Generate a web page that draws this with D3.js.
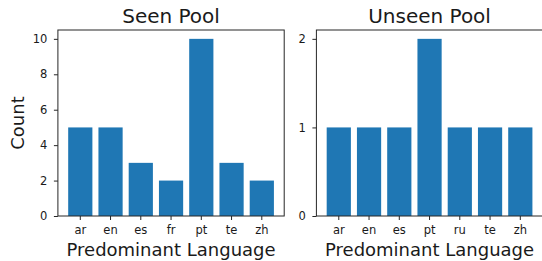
<!DOCTYPE html>
<html>
<head>
<meta charset="utf-8">
<script src="https://cdn.jsdelivr.net/npm/d3@7"></script>
<style>
  html, body { margin: 0; padding: 0; background: #fff; }
  svg { display: block; }
  text { font-family: "DejaVu Sans", sans-serif; fill: #1a1a1a; }
</style>
</head>
<body>
<div id="chart"></div>
<script>
// data
const seenLangs = ['ar', 'en', 'es', 'fr', 'pt', 'te', 'zh'];
const seenCounts = [5, 5, 3, 2, 10, 3, 2];
const seenTicks = [0, 2, 4, 6, 8, 10];

const unseenLangs = ['ar', 'en', 'es', 'pt', 'ru', 'te', 'zh'];
const unseenCounts = [1, 1, 1, 2, 1, 1, 1];
const unseenTicks = [0, 1, 2];

const width = 542, height = 261;
const plotTop = 30, plotBottom = 216;

const svg = d3.select('#chart').append('svg')
    .attr('width', width)
    .attr('height', height);

// draw one subplot
function drawPanel(opts) {
    const x = d3.scaleBand()
        .domain(opts.langs)
        .range([opts.left, opts.right])
        .paddingInner(0.2)
        .paddingOuter(0.34);

    const yMax = d3.max(opts.counts) * 1.05;
    const y = d3.scaleLinear().domain([0, yMax]).range([plotBottom, plotTop]);

    const g = svg.append('g');

    // bars
    g.selectAll('rect.bar')
        .data(opts.langs)
        .enter()
        .append('rect')
        .attr('class', 'bar')
        .attr('x', d => x(d))
        .attr('width', x.bandwidth())
        .attr('y', (d, i) => y(opts.counts[i]))
        .attr('height', (d, i) => plotBottom - y(opts.counts[i]))
        .attr('fill', '#1f77b4');

    // frame
    g.append('rect')
        .attr('x', opts.left)
        .attr('y', plotTop)
        .attr('width', opts.right - opts.left)
        .attr('height', plotBottom - plotTop)
        .attr('fill', 'none')
        .attr('stroke', '#262626')
        .attr('stroke-width', 1);

    // x axis
    const xAxis = g.append('g')
        .attr('transform', `translate(0,${plotBottom})`)
        .call(d3.axisBottom(x).tickSize(4).tickPadding(6));
    xAxis.select('.domain').remove();

    // y axis
    const yAxis = g.append('g')
        .attr('transform', `translate(${opts.left},0)`)
        .call(d3.axisLeft(y).tickValues(opts.ticks).tickFormat(d3.format('d')).tickSize(4).tickPadding(6.5));
    yAxis.select('.domain').remove();

    g.selectAll('.tick line').attr('stroke', '#262626');
    g.selectAll('.tick text')
        .style('font-family', '"DejaVu Sans", sans-serif')
        .style('font-size', '11.5px')
        .attr('fill', '#1a1a1a');

    // title
    g.append('text')
        .attr('x', (opts.left + opts.right) / 2)
        .attr('y', 22.5)
        .attr('text-anchor', 'middle')
        .style('font-size', '20px')
        .text(opts.title);

    // x label
    g.append('text')
        .attr('x', (opts.left + opts.right) / 2)
        .attr('y', 256)
        .attr('text-anchor', 'middle')
        .style('font-size', '18px')
        .text('Predominant Language');
}

drawPanel({
    title: 'Seen Pool',
    langs: seenLangs,
    counts: seenCounts,
    ticks: seenTicks,
    left: 57.9,
    right: 284.2
});

drawPanel({
    title: 'Unseen Pool',
    langs: unseenLangs,
    counts: unseenCounts,
    ticks: unseenTicks,
    left: 316.4,
    right: 542.7
});

// y label
svg.append('text')
    .attr('transform', `translate(24, ${(plotTop + plotBottom) / 2}) rotate(-90)`)
    .attr('text-anchor', 'middle')
    .style('font-size', '18px')
    .text('Count');
</script>
</body>
</html>
